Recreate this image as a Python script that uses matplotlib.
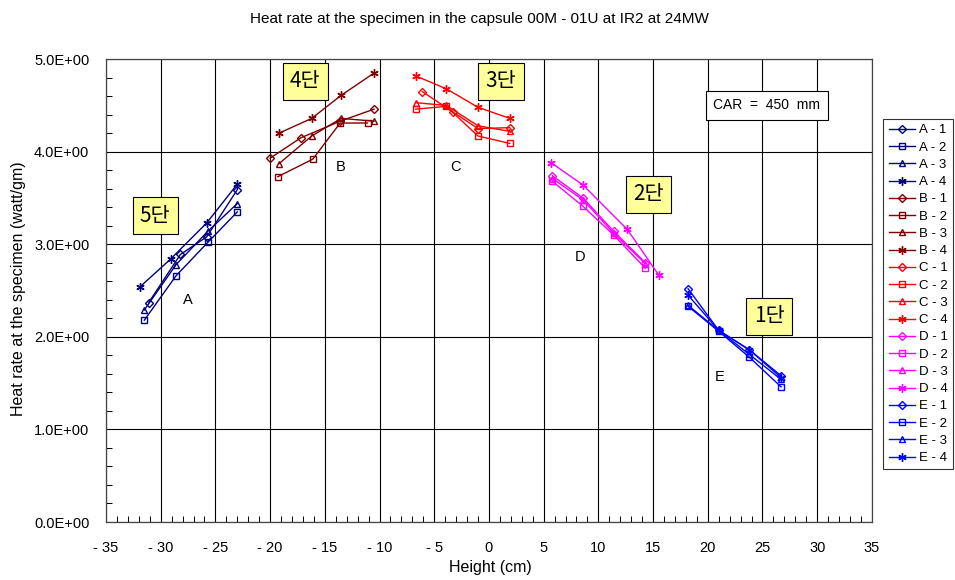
import matplotlib
matplotlib.use("Agg")
import matplotlib.pyplot as plt
from matplotlib.ticker import MultipleLocator, FuncFormatter

plt.rcParams['font.family'] = ['Liberation Sans', 'DejaVu Sans']

# ---- data ----
x_A = [-31.9, -29.1, -25.8, -23.0]
x_B = [-19.2, -16.2, -13.5, -10.5]
x_C = [-6.7, -3.9, -1.0, 1.9]
x_D = [5.8, 8.6, 11.4, 14.3]
x_E = [18.2, 21.0, 23.8, 26.7]

A1 = [2.37, 2.89, 3.08, 3.59]
A2 = [2.18, 2.66, 3.02, 3.35]
A3 = [2.29, 2.78, 3.14, 3.44]
A4 = [2.54, 2.84, 3.23, 3.65]
xA1 = [-31.1, -28.2, -25.8, -23.0]
xA23 = [-31.5, -28.6, -25.7, -23.0]

B1 = [3.93, 4.15, 4.33, 4.46]
B2 = [3.73, 3.92, 4.31, 4.31]
B3 = [3.87, 4.17, 4.36, 4.33]
B4 = [4.20, 4.36, 4.61, 4.85]
xB1 = [-20.0, -17.2, -13.6, -10.5]
xB2 = [-19.3, -16.1, -13.6, -11.1]

C1 = [4.65, 4.43, 4.25, 4.26]
C2 = [4.46, 4.49, 4.17, 4.09]
C3 = [4.53, 4.50, 4.28, 4.22]
C4 = [4.82, 4.68, 4.48, 4.36]
xC1 = [-6.1, -3.3, -1.0, 1.9]

D1 = [3.74, 3.50, 3.14, 2.80]
D2 = [3.68, 3.41, 3.10, 2.74]
D3 = [3.71, 3.48, 3.12, 2.79]
D4 = [3.88, 3.64, 3.16, 2.67]
xD4 = [5.7, 8.6, 12.65, 15.5]

E1 = [2.52, 2.07, 1.86, 1.58]
E2 = [2.33, 2.06, 1.78, 1.46]
E3 = [2.34, 2.07, 1.81, 1.54]
E4 = [2.45, 2.07, 1.86, 1.56]

series = [
    ("A - 1", xA1, A1), ("A - 2", xA23, A2), ("A - 3", xA23, A3), ("A - 4", x_A, A4),
    ("B - 1", xB1, B1), ("B - 2", xB2, B2), ("B - 3", x_B, B3), ("B - 4", x_B, B4),
    ("C - 1", xC1, C1), ("C - 2", x_C, C2), ("C - 3", x_C, C3), ("C - 4", x_C, C4),
    ("D - 1", x_D, D1), ("D - 2", x_D, D2), ("D - 3", x_D, D3), ("D - 4", xD4, D4),
    ("E - 1", x_E, E1), ("E - 2", x_E, E2), ("E - 3", x_E, E3), ("E - 4", x_E, E4),
]
group_colors = {"A": "#000080", "B": "#800000", "C": "#FF0000", "D": "#FF00FF", "E": "#0000FF"}
markers = ["D", "s", "^", (6, 2, 0)]
msizes = [4, 5, 5, 6]

group_labels = [("A", -27.5, 2.40), ("B", -13.6, 3.84), ("C", -3.1, 3.84), ("D", 8.3, 2.86), ("E", 21.1, 1.57)]
dan_labels = [("5단", -30.5, 3.31), ("4단", -16.8, 4.76), ("3단", 1.1, 4.76), ("2단", 14.6, 3.54), ("1단", 25.6, 2.22)]

fig = plt.figure(figsize=(9.55, 5.8), dpi=100)
ax = fig.add_axes([0.111, 0.1, 0.802, 0.798])

for i, (name, xs, ys) in enumerate(series):
    k = i % 4
    c = group_colors[name[0]]
    ax.plot(xs, ys, color=c, lw=1.0, marker=markers[k], ms=msizes[k],
            mfc="none", mec=c, mew=1.0, label=name)

for t, x, y in group_labels:
    ax.text(x, y, t, fontsize=10.5, ha="center", va="center")

for t, x, y in dan_labels:
    ax.text(x, y, t, fontsize=15, ha="center", va="center",
            family=["Noto Sans CJK KR", "DejaVu Sans"],
            bbox=dict(boxstyle="square,pad=0.35", fc="#FFFF99", ec="black", lw=0.8))

ax.text(25.4, 4.5, "CAR  =  450  mm", fontsize=10, ha="center", va="center",
        bbox=dict(boxstyle="square,pad=0.55", fc="white", ec="black", lw=0.8))

ax.set_xlim(-35, 35)
ax.set_ylim(0, 5)
ax.xaxis.set_major_locator(MultipleLocator(5))
ax.xaxis.set_minor_locator(MultipleLocator(1))
ax.yaxis.set_major_locator(MultipleLocator(1))
ax.yaxis.set_minor_locator(MultipleLocator(0.2))
ax.xaxis.set_major_formatter(FuncFormatter(lambda v, p: f"- {abs(v):.0f}" if v < 0 else f"{v:.0f}"))
ax.yaxis.set_major_formatter(FuncFormatter(lambda v, p: f"{v:.1f}E+00"))
ax.tick_params(which="both", direction="in", labelsize=10.5, top=False, right=False)
ax.tick_params(which="major", length=0)
ax.tick_params(axis="x", which="major", pad=14)
ax.tick_params(axis="y", which="major", pad=12)
ax.tick_params(which="minor", length=4, width=0.7)
ax.grid(True, which="major", color="black", lw=0.8)
for s in ax.spines.values():
    s.set_color("#444444")
    s.set_linewidth(0.9)

fig.text(0.513, 0.022, "Height (cm)", fontsize=11.5, ha="center", va="center")
fig.text(0.019, 0.503, "Heat rate at the specimen (watt/gm)", fontsize=11.5,
         ha="center", va="center", rotation=90)
fig.text(0.502, 0.968, "Heat rate at the specimen in the capsule 00M - 01U at IR2 at 24MW",
         fontsize=11, ha="center", va="center")

leg = ax.legend(loc="upper left", bbox_to_anchor=(0.925, 0.795), bbox_transform=fig.transFigure,
                frameon=True, fancybox=False, edgecolor="black", fontsize=9.5,
                handlelength=2.0, handletextpad=0.3, borderpad=0.4, labelspacing=0.38,
                borderaxespad=0)
leg.get_frame().set_linewidth(0.8)

fig.savefig("out.png", dpi=100)
